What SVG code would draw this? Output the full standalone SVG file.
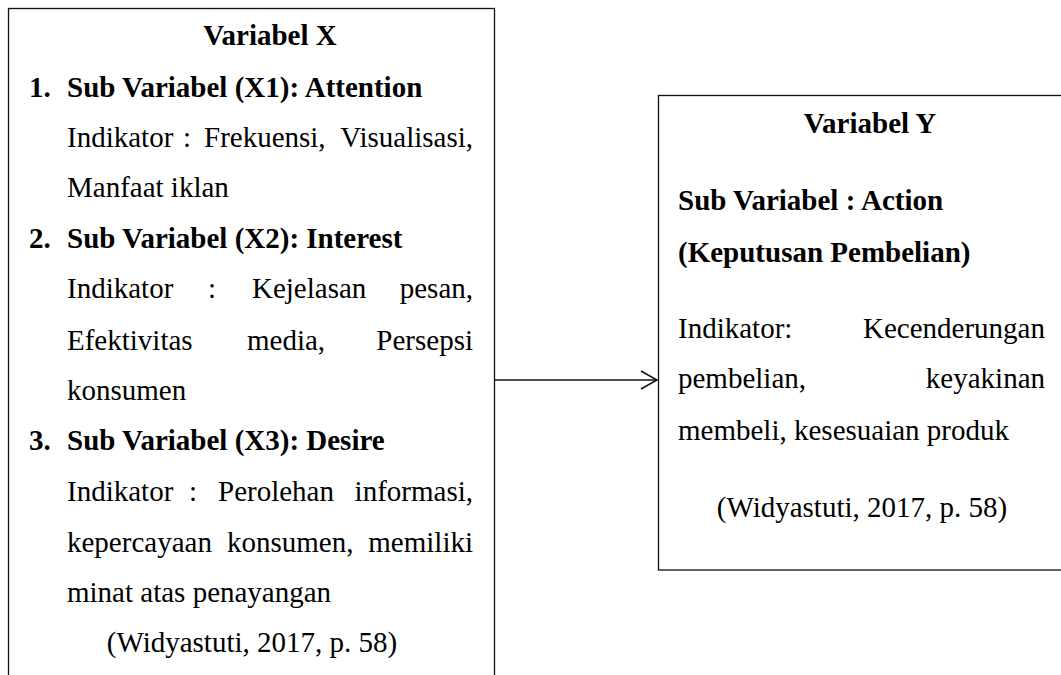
<svg xmlns="http://www.w3.org/2000/svg" width="1061" height="675" viewBox="0 0 1061 675">
<style>
.box{fill:#fff;stroke:#111;stroke-width:1.3}
text{font-family:"Liberation Serif","Times New Roman",serif;font-size:29px;fill:#000}
.b{font-weight:bold}
.m{text-anchor:middle}
.e{text-anchor:end}
.conn{stroke:#111;stroke-width:1.5;fill:none}
</style>
<defs>
<marker id="chev" viewBox="0 0 20 20" refX="17" refY="10" markerWidth="20" markerHeight="20" markerUnits="userSpaceOnUse" orient="auto">
<path d="M1,1 L17,10 L1,19" fill="none" stroke="#111" stroke-width="1.5"/>
</marker>
</defs>
<rect width="1061" height="675" fill="#fff"/>
<g id="variabel-x">
<rect class="box" x="8.5" y="8.5" width="486" height="680"/>
<text class="b m" x="270" y="45">Variabel X</text>
<text class="b" x="29" y="97">1.</text>
<text class="b" x="67" y="97">Sub Variabel (X1): Attention</text>
<text x="67" y="147">Indikator</text><text x="183" y="147">:</text><text x="204" y="147">Frekuensi,</text><text class="e" x="473" y="147">Visualisasi,</text>
<text x="67" y="197">Manfaat iklan</text>
<text class="b" x="29" y="248">2.</text>
<text class="b" x="67" y="248">Sub Variabel (X2): Interest</text>
<text x="67" y="298">Indikator</text><text x="208" y="298">:</text><text x="252" y="298">Kejelasan</text><text class="e" x="473" y="298">pesan,</text>
<text x="67" y="350">Efektivitas</text><text x="247" y="350">media,</text><text class="e" x="473" y="350">Persepsi</text>
<text x="67" y="400">konsumen</text>
<text class="b" x="29" y="450">3.</text>
<text class="b" x="67" y="450">Sub Variabel (X3): Desire</text>
<text x="67" y="501">Indikator</text><text x="189" y="501">:</text><text x="218" y="501">Perolehan</text><text class="e" x="473" y="501">informasi,</text>
<text x="67" y="552">kepercayaan</text><text x="227" y="552">konsumen,</text><text class="e" x="473" y="552">memiliki</text>
<text x="67" y="602">minat atas penayangan</text>
<text class="m" x="252" y="652">(Widyastuti, 2017, p. 58)</text>
</g>
<g id="variabel-y">
<rect class="box" x="658.5" y="95.5" width="420" height="474.5"/>
<text class="b m" x="870" y="133">Variabel Y</text>
<text class="b" x="678" y="210">Sub Variabel : Action</text>
<text class="b" x="678" y="262">(Keputusan Pembelian)</text>
<text x="678" y="338">Indikator:</text><text class="e" x="1045" y="338">Kecenderungan</text>
<text x="678" y="388">pembelian,</text><text class="e" x="1045" y="388">keyakinan</text>
<text x="678" y="440">membeli, kesesuaian produk</text>
<text class="m" x="862" y="517">(Widyastuti, 2017, p. 58)</text>
</g>
<g id="connectors">
<line class="conn" x1="495" y1="380" x2="657" y2="380" marker-end="url(#chev)"/>
</g>
</svg>
